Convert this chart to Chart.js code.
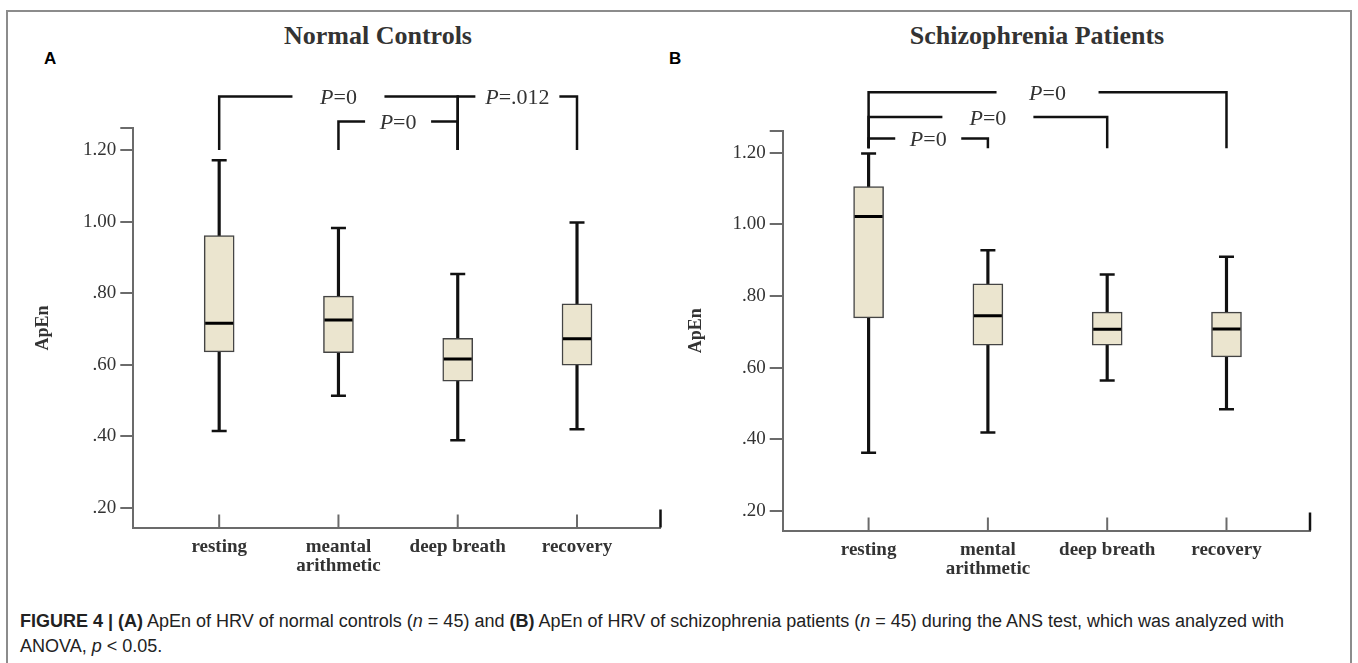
<!DOCTYPE html>
<html>
<head>
<meta charset="utf-8">
<title>Figure 4 - ApEn of HRV</title>
<script src="https://cdn.jsdelivr.net/npm/chart.js"></script>
<style>
    body { margin: 0; background: #fff; }
    .page { position: relative; width: 1358px; height: 663px; overflow: hidden; background: #fff; }
    .frame { position: absolute; left: 6px; top: 10px; width: 1346px; height: 720px; border: 2px solid #8c8c8c; box-sizing: border-box; }
    canvas { position: absolute; top: 0; }
    #chartA { left: 0; }
    #chartB { left: 650px; }
    .title { position: absolute; top: 23px; width: 400px; text-align: center; font: bold 26px/26px "Liberation Serif", serif; color: #333; }
    .panel { position: absolute; top: 50px; font: bold 17px/17px "Liberation Sans", Arial, sans-serif; color: #000; }
    .caption { position: absolute; left: 20px; top: 609px; white-space: nowrap; font: 18px/25px "Liberation Sans", Arial, sans-serif; color: #222; }
</style>
</head>
<body>
<div class="page">
    <div class="frame"></div>
    <div class="title" style="left: 178px;">Normal Controls</div>
    <div class="title" style="left: 837px;">Schizophrenia Patients</div>
    <div class="panel" style="left: 44px;">A</div>
    <div class="panel" style="left: 669px;">B</div>
    <canvas id="chartA" width="680" height="600"></canvas>
    <canvas id="chartB" width="708" height="600"></canvas>
    <div class="caption"><b>FIGURE 4 | (A)</b> ApEn of HRV of normal controls (<i>n</i> = 45) and <b>(B)</b> ApEn of HRV of schizophrenia patients (<i>n</i> = 45) during the ANS test, which was analyzed with<br>ANOVA, <i>p</i> &lt; 0.05.</div>
</div>

<script>
    // categories
    const categoriesNormal = ['resting', ['meantal', 'arithmetic'], 'deep breath', 'recovery'];
    const categoriesPatient = ['resting', ['mental', 'arithmetic'], 'deep breath', 'recovery'];

    // y axis
    const yTickValues = [0.2, 0.4, 0.6, 0.8, 1.0, 1.2];
    const yTickLabels = ['.20', '.40', '.60', '.80', '1.00', '1.20'];
    const yMin = 0.145, yMax = 1.261;
    const xMin = -0.72, xMax = 3.70;

    // normal controls (A): whisker low, Q1, median, Q3, whisker high
    const normalMin = [0.415, 0.513, 0.389, 0.420];
    const normalQ1 = [0.636, 0.634, 0.554, 0.599];
    const normalMedian = [0.716, 0.725, 0.616, 0.673];
    const normalQ3 = [0.961, 0.792, 0.674, 0.770];
    const normalMax = [1.172, 0.982, 0.854, 0.998];

    // schizophrenia patients (B)
    const patientMin = [0.362, 0.419, 0.564, 0.484];
    const patientQ1 = [0.739, 0.663, 0.663, 0.630];
    const patientMedian = [1.022, 0.745, 0.707, 0.708];
    const patientQ3 = [1.106, 0.834, 0.755, 0.755];
    const patientMax = [1.198, 0.928, 0.860, 0.910];

    // significance brackets: [from category, to category, level, P value]
    const normalBrackets = [[0, 2, 1.35, '0'], [1, 2, 1.28, '0'], [2, 3, 1.35, '.012']];
    const patientBrackets = [[0, 3, 1.369, '0'], [0, 2, 1.30, '0'], [0, 1, 1.24, '0']];
    const normalBracketBase = 1.20;
    const patientBracketBase = 1.213;

    const SERIF = '"Liberation Serif", "Times New Roman", serif';
    Chart.defaults.font.family = SERIF;
    Chart.defaults.color = '#333';

    function overlayPlugin(brackets, base, gaps) {
        return {
            id: 'overlay',
            afterDraw(chart) {
                const { ctx, chartArea } = chart;
                const x = chart.scales.x, y = chart.scales.y;
                ctx.save();
                // inward category ticks on the x axis
                ctx.strokeStyle = '#6b6b6b';
                ctx.lineWidth = 2;
                x.ticks.forEach(t => {
                    const px = x.getPixelForValue(t.value);
                    ctx.beginPath();
                    ctx.moveTo(px, chartArea.bottom);
                    ctx.lineTo(px, chartArea.bottom - 13);
                    ctx.stroke();
                });
                // end mark of x axis
                ctx.strokeStyle = '#111';
                ctx.lineWidth = 2.5;
                ctx.beginPath();
                ctx.moveTo(chartArea.right, chartArea.bottom);
                ctx.lineTo(chartArea.right, chartArea.bottom - 18);
                ctx.stroke();

                // brackets
                brackets.forEach((b, k) => {
                    const x1 = x.getPixelForValue(b[0]);
                    const x2 = x.getPixelForValue(b[1]);
                    const yl = y.getPixelForValue(b[2]);
                    const yb = y.getPixelForValue(base);
                    const mid = (x1 + x2) / 2, half = gaps[k] / 2;
                    ctx.strokeStyle = '#111';
                    ctx.lineWidth = 2.5;
                    ctx.beginPath();
                    ctx.moveTo(x1, yb);
                    ctx.lineTo(x1, yl);
                    ctx.lineTo(mid - half, yl);
                    ctx.moveTo(mid + half, yl);
                    ctx.lineTo(x2, yl);
                    ctx.lineTo(x2, yb);
                    ctx.stroke();

                    const italic = 'italic 22px ' + SERIF, roman = '22px ' + SERIF;
                    ctx.font = italic;
                    const wP = ctx.measureText('P').width;
                    ctx.font = roman;
                    const wR = ctx.measureText('=' + b[3]).width;
                    const sx = mid - (wP + wR) / 2;
                    ctx.fillStyle = '#333';
                    ctx.textAlign = 'left';
                    ctx.textBaseline = 'alphabetic';
                    ctx.font = italic;
                    ctx.fillText('P', sx, yl + 7.5);
                    ctx.font = roman;
                    ctx.fillText('=' + b[3], sx + wP, yl + 7.5);
                });
                ctx.restore();
            }
        };
    }

    function makeBoxChart(id, cats, mins, q1s, meds, q3s, maxs, brackets, base, gaps, geo) {
        const pts = (arr) => arr.map((v, i) => ({ x: i, y: v }));
        return new Chart(document.getElementById(id), {
            type: 'bar',
            data: {
                datasets: [
                    {   // whiskers
                        type: 'bar',
                        data: cats.map((c, i) => ({ x: i, y: [mins[i], maxs[i]] })),
                        backgroundColor: '#111',
                        borderWidth: 0,
                        barThickness: 2.5,
                        grouped: false,
                        order: 4
                    },
                    {   // boxes
                        type: 'bar',
                        data: cats.map((c, i) => ({ x: i, y: [q1s[i], q3s[i]] })),
                        backgroundColor: '#ebe5cf',
                        borderColor: '#444',
                        borderWidth: 1.5,
                        borderSkipped: false,
                        barThickness: 30,
                        grouped: false,
                        order: 3
                    },
                    {   // whisker caps
                        type: 'scatter',
                        data: pts(mins).concat(pts(maxs)),
                        pointStyle: 'line',
                        radius: 7.5,
                        borderWidth: 2.5,
                        borderColor: '#111',
                        order: 2
                    },
                    {   // medians
                        type: 'scatter',
                        data: pts(meds),
                        pointStyle: 'line',
                        radius: 14,
                        borderWidth: 3,
                        borderColor: '#000',
                        order: 1
                    }
                ]
            },
            options: {
                responsive: false,
                animation: false,
                events: [],
                layout: { padding: { top: geo.padTop, right: geo.padRight, left: 0, bottom: 0 } },
                plugins: { legend: { display: false }, tooltip: { enabled: false } },
                scales: {
                    x: {
                        type: 'linear',
                        min: xMin,
                        max: xMax,
                        offset: false,
                        afterBuildTicks: s => { s.ticks = cats.map((c, i) => ({ value: i })); },
                        afterFit: s => { s.height = geo.xHeight; },
                        ticks: {
                            autoSkip: false,
                            maxRotation: 0,
                            padding: 10,
                            color: '#333',
                            font: { size: 19, weight: 'bold', lineHeight: 1 },
                            callback: (v, i) => cats[i]
                        },
                        grid: { display: false, drawTicks: false, offset: false },
                        border: { display: true, color: '#6b6b6b', width: 2 }
                    },
                    y: {
                        type: 'linear',
                        min: yMin,
                        max: yMax,
                        afterBuildTicks: s => { s.ticks = yTickValues.concat([yMax]).map(v => ({ value: v })); },
                        afterFit: s => { s.width = geo.yWidth; },
                        ticks: {
                            padding: 4,
                            color: '#333',
                            font: { size: 19 },
                            callback: (v, i) => yTickLabels[i] || ''
                        },
                        grid: { display: true, drawOnChartArea: false, drawTicks: true, tickLength: 13, color: '#6b6b6b', lineWidth: 2 },
                        border: { display: true, color: '#6b6b6b', width: 2 },
                        title: {
                            display: true,
                            text: 'ApEn',
                            color: '#333',
                            font: { size: 18, weight: 'bold' },
                            padding: { top: geo.titlePad, bottom: 0 }
                        }
                    }
                }
            },
            plugins: [overlayPlugin(brackets, base, gaps)]
        });
    }

    makeBoxChart('chartA', categoriesNormal, normalMin, normalQ1, normalMedian, normalQ3, normalMax,
        normalBrackets, normalBracketBase, [92, 66, 84],
        { padTop: 128.3, padRight: 19.5, yWidth: 133.3, xHeight: 72.5, titlePad: 33 });

    makeBoxChart('chartB', categoriesPatient, patientMin, patientQ1, patientMedian, patientQ3, patientMax,
        patientBrackets, patientBracketBase, [102, 91, 66],
        { padTop: 131, padRight: 48, yWidth: 132.7, xHeight: 69.5, titlePad: 36 });
</script>
</body>
</html>
